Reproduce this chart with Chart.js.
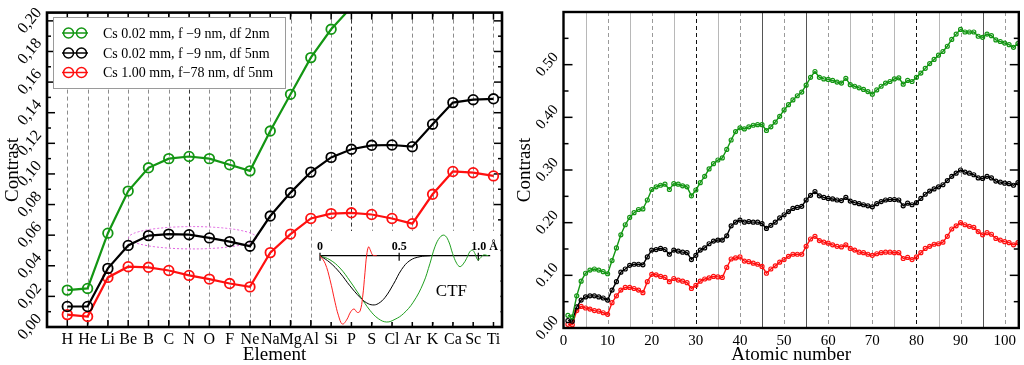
<!DOCTYPE html>
<html>
<head>
<meta charset="utf-8">
<script src="https://cdn.jsdelivr.net/npm/chart.js@4.4.1/dist/chart.umd.min.js"></script>
<style>
  html, body { margin: 0; padding: 0; background: #fff; }
  #wrap { position: relative; width: 1024px; height: 365px; }
  canvas { position: absolute; top: 0; }
</style>
</head>
<body>
<div id="wrap">
  <canvas id="left" width="512" height="365" style="left:0"></canvas>
  <canvas id="right" width="512" height="365" style="left:512px"></canvas>
</div>
<script>
const SERIF = "'Liberation Serif', 'Times New Roman', serif";
const GREEN = '#139613';
const RED = '#ff1010';
const BLACK = '#000000';

// ---- left panel: contrast per element ----
const elements = ['H','He','Li','Be','B','C','N','O','F','Ne','Na','Mg','Al','Si','P','S','Cl','Ar','K','Ca','Sc','Ti'];
const leftYTicks = [0, 0.02, 0.04, 0.06, 0.08, 0.10, 0.12, 0.14, 0.16, 0.18, 0.20];
const legendLabels = ['Cs 0.02 mm, f \u22129 nm, df 2nm', 'Cs 0.02 mm, f \u22129 nm, df 5nm', 'Cs 1.00 mm, f\u221278 nm, df 5nm'];
const leftGreen = [0.0241, 0.0252, 0.0613, 0.0888, 0.104, 0.110, 0.1114, 0.110, 0.106, 0.102, 0.128, 0.152, 0.176, 0.1945, 0.209];
const leftBlack = [0.0134, 0.0134, 0.0383, 0.0533, 0.0597, 0.0607, 0.0603, 0.0582, 0.0558, 0.0528, 0.0725, 0.0878, 0.1012, 0.1108, 0.1161, 0.1187, 0.1189, 0.1178, 0.1325, 0.1466, 0.1485, 0.1491];
const leftRed = [0.0081, 0.0068, 0.0324, 0.0394, 0.039, 0.0369, 0.0337, 0.0313, 0.0284, 0.0262, 0.0486, 0.0607, 0.0709, 0.0741, 0.0746, 0.0735, 0.0709, 0.0675, 0.0867, 0.1016, 0.1008, 0.0987];

// CTF inset (x in Angstrom, y arbitrary)
const ctfTicks = [0, 0.5, 1.0];
const ctfTickLabels = ['0', '0.5', '1.0 \u00c5'];
const ctfRedX = [0, 0.032, 0.063, 0.095, 0.116, 0.141, 0.168, 0.194, 0.215, 0.236, 0.253, 0.269, 0.284, 0.295, 0.307, 0.32, 0.333, 0.358];
const ctfRedY = [0, -0.11, -0.35, -0.68, -0.87, -1.0, -0.94, -0.82, -0.78, -0.83, -0.81, -0.61, -0.25, 0.01, 0.13, 0.07, 0.01, 0];
const ctfBlackX = [0, 0.063, 0.126, 0.189, 0.253, 0.295, 0.333, 0.368, 0.411, 0.463, 0.516, 0.568, 0.632, 0.695];
const ctfBlackY = [0, -0.10, -0.25, -0.44, -0.61, -0.69, -0.72, -0.70, -0.61, -0.42, -0.20, -0.07, -0.014, 0];
const ctfGreenX = [0, 0.063, 0.126, 0.189, 0.253, 0.316, 0.368, 0.421, 0.474, 0.526, 0.589, 0.653, 0.695, 0.726, 0.758, 0.785, 0.811, 0.838, 0.863, 0.884, 0.905, 0.926, 0.947, 0.964, 0.979, 0.996, 1.011, 1.032, 1.063];
const ctfGreenY = [0, -0.06, -0.18, -0.37, -0.59, -0.80, -0.92, -0.97, -0.93, -0.85, -0.68, -0.40, -0.11, 0.13, 0.27, 0.30, 0.22, 0.03, -0.11, -0.16, -0.12, -0.04, 0.06, 0.08, 0.03, -0.06, -0.04, 0.01, 0];

// ---- right panel: contrast vs atomic number 1..103 ----
const rightXTicks = [0, 10, 20, 30, 40, 50, 60, 70, 80, 90, 100];
const rightYTicks = [0, 0.1, 0.2, 0.3, 0.4, 0.5];
const rightGreen = [
  0.024, 0.021, 0.061, 0.089, 0.104, 0.110, 0.112, 0.110, 0.107, 0.103,
  0.128, 0.152, 0.177, 0.196, 0.210, 0.219, 0.225, 0.226, 0.243, 0.263,
  0.268, 0.271, 0.273, 0.263, 0.274, 0.273, 0.270, 0.268, 0.251, 0.262,
  0.276, 0.288, 0.302, 0.312, 0.319, 0.323, 0.339, 0.357, 0.373, 0.380,
  0.378, 0.382, 0.385, 0.386, 0.386, 0.375, 0.382, 0.391, 0.402, 0.414,
  0.424, 0.433, 0.441, 0.448, 0.461, 0.476, 0.487, 0.476, 0.473, 0.472,
  0.470, 0.467, 0.465, 0.474, 0.462, 0.459, 0.456, 0.453, 0.449, 0.444,
  0.452, 0.459, 0.465, 0.468, 0.473, 0.475, 0.463, 0.470, 0.468, 0.476,
  0.484, 0.493, 0.502, 0.510, 0.518, 0.525, 0.535, 0.548, 0.558, 0.567,
  0.562, 0.562, 0.562, 0.554, 0.552, 0.558, 0.555, 0.547, 0.544, 0.541,
  0.538, 0.533, 0.540];
const rightBlack = [
  0.014, 0.013, 0.040, 0.053, 0.059, 0.061, 0.061, 0.059, 0.057, 0.053,
  0.072, 0.088, 0.106, 0.112, 0.119, 0.121, 0.121, 0.120, 0.135, 0.148,
  0.149, 0.151, 0.149, 0.140, 0.148, 0.146, 0.144, 0.143, 0.130, 0.138,
  0.148, 0.152, 0.160, 0.165, 0.167, 0.167, 0.175, 0.194, 0.201, 0.205,
  0.201, 0.202, 0.201, 0.201, 0.198, 0.189, 0.195, 0.201, 0.209, 0.215,
  0.221, 0.227, 0.229, 0.231, 0.243, 0.252, 0.259, 0.251, 0.248, 0.246,
  0.245, 0.243, 0.242, 0.248, 0.241, 0.238, 0.236, 0.234, 0.232, 0.230,
  0.236, 0.240, 0.243, 0.244, 0.244, 0.243, 0.232, 0.237, 0.234, 0.238,
  0.246, 0.254, 0.260, 0.264, 0.268, 0.272, 0.280, 0.288, 0.294, 0.300,
  0.296, 0.294, 0.291, 0.285, 0.284, 0.288, 0.285, 0.279, 0.277, 0.275,
  0.274, 0.271, 0.276];
const rightRed = [
  0.007, 0.006, 0.033, 0.041, 0.038, 0.036, 0.033, 0.032, 0.029, 0.026,
  0.048, 0.061, 0.072, 0.077, 0.077, 0.075, 0.072, 0.067, 0.088, 0.102,
  0.101, 0.098, 0.096, 0.088, 0.094, 0.091, 0.089, 0.086, 0.075, 0.081,
  0.089, 0.093, 0.095, 0.098, 0.097, 0.096, 0.115, 0.131, 0.133, 0.135,
  0.127, 0.126, 0.123, 0.121, 0.117, 0.104, 0.112, 0.118, 0.125, 0.130,
  0.136, 0.140, 0.140, 0.140, 0.155, 0.169, 0.174, 0.166, 0.163, 0.161,
  0.158, 0.155, 0.154, 0.158, 0.151, 0.148, 0.144, 0.143, 0.140, 0.138,
  0.141, 0.143, 0.144, 0.144, 0.143, 0.143, 0.132, 0.134, 0.130, 0.135,
  0.143, 0.151, 0.155, 0.159, 0.160, 0.163, 0.174, 0.188, 0.194, 0.200,
  0.196, 0.193, 0.191, 0.183, 0.177, 0.181, 0.178, 0.170, 0.167, 0.164,
  0.162, 0.158, 0.162];

function xy(xs, ys) { return ys.map((v, i) => ({x: xs[i], y: v})); }
function byIndex(ys) { return ys.map((v, i) => ({x: i + 1, y: v})); }

function seg(ctx, x1, y1, x2, y2) {
  ctx.beginPath(); ctx.moveTo(x1, y1); ctx.lineTo(x2, y2); ctx.stroke();
}

const leftDecor = {
  id: 'leftDecor',
  beforeDatasetsDraw(chart) {
    const {ctx, chartArea: {left, right, top, bottom}, scales: {x, y, x2, y2}} = chart;
    ctx.save();
    // dashed vertical lines at each element
    ctx.lineWidth = 1;
    ctx.setLineDash([4, 3]);
    elements.forEach((el, i) => {
      const px = Math.round(x.getPixelForValue(i + 1)) + 0.5;
      ctx.strokeStyle = (i + 1 === 7 || i + 1 === 15) ? '#333' : '#8c8c8c';
      seg(ctx, px, top, px, bottom);
    });
    // dotted ellipse round the B..Ne black points
    ctx.setLineDash([2, 2]);
    ctx.strokeStyle = '#e060e0';
    const cx = x.getPixelForValue(7.17), cy = y.getPixelForValue(0.0583);
    const rx = x.getPixelForValue(10.32) - cx, ry = cy - y.getPixelForValue(0.0656);
    ctx.beginPath(); ctx.ellipse(cx, cy, rx, ry, 0, 0, 2 * Math.PI); ctx.stroke();
    ctx.setLineDash([]);
    // inward tick marks
    ctx.strokeStyle = '#000';
    ctx.lineWidth = 1.5;
    for (let k = 0; k <= 20; k++) {
      const py = y.getPixelForValue(k / 100);
      const len = k % 2 ? 4 : 8;
      seg(ctx, left, py, left + len, py);
      seg(ctx, right - len, py, right, py);
    }
    elements.forEach((el, i) => {
      const px = x.getPixelForValue(i + 1);
      seg(ctx, px, top, px, top + 7);
      seg(ctx, px, bottom - 7, px, bottom);
    });
    // inset background
    ctx.fillStyle = '#fff';
    ctx.fillRect(315, 231, right - 1.5 - 315, 322 - 231);
    // inset axis
    const y0 = y2.getPixelForValue(0);
    ctx.lineWidth = 1.2;
    seg(ctx, x2.getPixelForValue(0), y0, x2.getPixelForValue(1.075), y0);
    ctx.fillStyle = '#000';
    ctx.font = 'bold 12px ' + SERIF;
    ctx.textBaseline = 'alphabetic';
    ctfTicks.forEach((t, i) => {
      const px = x2.getPixelForValue(t);
      seg(ctx, px, y0 - 3, px, y0 + 5);
      ctx.textAlign = i === 2 ? 'left' : 'center';
      ctx.fillText(ctfTickLabels[i], i === 2 ? px - 7 : px, y0 - 6);
    });
    ctx.font = '17px ' + SERIF;
    ctx.textAlign = 'center';
    ctx.textBaseline = 'middle';
    ctx.fillText('CTF', x2.getPixelForValue(0.83), y2.getPixelForValue(-0.53));
    ctx.restore();
  },
  afterDraw(chart) {
    const {ctx, chartArea: {left, right, top, bottom}} = chart;
    ctx.save();
    ctx.strokeStyle = '#000';
    ctx.lineWidth = 2.6;
    ctx.strokeRect(left, top, right - left, bottom - top);
    // legend
    ctx.fillStyle = '#fff';
    ctx.fillRect(53.5, 17.5, 232, 71);
    ctx.strokeStyle = '#9a9a9a';
    ctx.lineWidth = 1;
    ctx.strokeRect(53.5, 17.5, 232, 71);
    const colors = [GREEN, BLACK, RED];
    const rows = [33, 53, 72.5];
    ctx.font = '14px ' + SERIF;
    ctx.textBaseline = 'middle';
    ctx.textAlign = 'left';
    rows.forEach((ry, i) => {
      ctx.strokeStyle = colors[i];
      ctx.lineWidth = 1.5;
      seg(ctx, 62, ry, 88, ry);
      [68.5, 81.5].forEach(cx => { ctx.beginPath(); ctx.arc(cx, ry, 5, 0, 2 * Math.PI); ctx.stroke(); });
      ctx.fillStyle = '#000';
      ctx.fillText(legendLabels[i], 103, ry + 1);
    });
    ctx.restore();
  }
};

const rightDecor = {
  id: 'rightDecor',
  beforeDatasetsDraw(chart) {
    const {ctx, chartArea: {left, right, top, bottom}, scales: {x, y}} = chart;
    ctx.save();
    ctx.lineWidth = 1;
    for (let v = 5; v <= 100; v += 5) {
      const px = Math.round(x.getPixelForValue(v)) + 0.5;
      if (v % 10 === 0) {
        ctx.setLineDash([4, 3]);
        ctx.strokeStyle = (v === 30 || v === 80) ? '#111' : '#9a9a9a';
      } else {
        ctx.setLineDash([]);
        ctx.strokeStyle = (v === 45 || v === 55 || v === 95) ? '#555' : '#b8b8b8';
      }
      seg(ctx, px, top, px, bottom);
    }
    ctx.setLineDash([]);
    ctx.strokeStyle = '#000';
    ctx.lineWidth = 1.5;
    for (let k = 0; k <= 12; k++) {
      const py = y.getPixelForValue(k * 0.05);
      const len = k % 2 ? 5 : 9;
      seg(ctx, left, py, left + len, py);
      seg(ctx, right - len, py, right, py);
    }
    ctx.restore();
  },
  afterDraw(chart) {
    const {ctx, chartArea: {left, right, top, bottom}} = chart;
    ctx.save();
    ctx.strokeStyle = '#000';
    ctx.lineWidth = 2.4;
    ctx.strokeRect(left, top, right - left, bottom - top);
    ctx.restore();
  }
};

function mainSet(label, data, color, r, bw, lw) {
  return {
    label, data,
    borderColor: color, borderWidth: lw,
    pointRadius: r, pointBorderWidth: bw, pointBorderColor: color,
    pointBackgroundColor: 'rgba(0,0,0,0)', pointStyle: 'circle',
    tension: 0
  };
}
function ctfSet(label, data, color) {
  return {
    label, data, xAxisID: 'x2', yAxisID: 'y2',
    borderColor: color, borderWidth: 1, pointRadius: 0, tension: 0.4
  };
}

const tickFont = {family: SERIF, size: 16};
const titleFont = {family: SERIF, size: 19};

new Chart(document.getElementById('left'), {
  type: 'line',
  data: {
    datasets: [
      mainSet(legendLabels[0], byIndex(leftGreen), GREEN, 4.8, 1.8, 2.2),
      mainSet(legendLabels[1], byIndex(leftBlack), BLACK, 4.8, 1.8, 2.2),
      mainSet(legendLabels[2], byIndex(leftRed), RED, 4.8, 1.8, 2.2),
      ctfSet('CTF Cs 1.00 mm', xy(ctfRedX, ctfRedY), '#ff2020'),
      ctfSet('CTF Cs 0.02 mm, df 5nm', xy(ctfBlackX, ctfBlackY), '#000'),
      ctfSet('CTF Cs 0.02 mm, df 2nm', xy(ctfGreenX, ctfGreenY), '#20a020')
    ]
  },
  options: {
    responsive: false,
    animation: false,
    devicePixelRatio: 1,
    layout: {padding: {top: 5, right: 10, left: 0, bottom: 0}},
    plugins: {legend: {display: false}, tooltip: {enabled: false}},
    scales: {
      x: {
        type: 'linear', min: 0, max: 22.42,
        grid: {display: false, drawTicks: false},
        border: {display: false},
        afterBuildTicks: s => { s.ticks = elements.map((e, i) => ({value: i + 1})); },
        afterFit: s => { s.height = 38; },
        ticks: {autoSkip: false, maxRotation: 0, padding: 3, color: '#000', font: tickFont,
          callback: v => elements[v - 1]},
        title: {display: true, text: 'Element', color: '#000', font: {family: SERIF, size: 19, lineHeight: 1.05}, padding: 0}
      },
      y: {
        type: 'linear', min: 0, max: 0.2054,
        grid: {display: false, drawTicks: false},
        border: {display: false},
        afterBuildTicks: s => { s.ticks = leftYTicks.map(v => ({value: v})); },
        afterFit: s => { s.width = 47; },
        ticks: {autoSkip: false, minRotation: 50, maxRotation: 50, crossAlign: 'center', padding: 3,
          color: '#000', font: tickFont, callback: v => v.toFixed(2).replace('.', ',')},
        title: {display: true, text: 'Contrast', color: '#000', font: {family: SERIF, size: 19, lineHeight: 1.37}, padding: 0}
      },
      x2: {type: 'linear', axis: 'x', position: 'bottom', display: false, min: -1.7246, max: 1.1497},
      y2: {type: 'linear', axis: 'y', position: 'left', display: false, min: -1.0429, max: 3.557}
    }
  },
  plugins: [leftDecor]
});

new Chart(document.getElementById('right'), {
  type: 'line',
  data: {
    datasets: [
      mainSet(legendLabels[0], byIndex(rightGreen), GREEN, 2, 1.2, 1.4),
      mainSet(legendLabels[1], byIndex(rightBlack), BLACK, 2, 1.2, 1.4),
      mainSet(legendLabels[2], byIndex(rightRed), RED, 2, 1.2, 1.4)
    ]
  },
  options: {
    responsive: false,
    animation: false,
    devicePixelRatio: 1,
    layout: {padding: {top: 4, right: 2.5, left: 0, bottom: 0}},
    plugins: {legend: {display: false}, tooltip: {enabled: false}},
    scales: {
      x: {
        type: 'linear', min: 0, max: 103.2,
        grid: {display: false, drawTicks: false},
        border: {display: false},
        afterBuildTicks: s => { s.ticks = rightXTicks.map(v => ({value: v})); },
        afterFit: s => { s.height = 37; },
        ticks: {autoSkip: false, maxRotation: 0, padding: 4, color: '#000', font: {family: SERIF, size: 15}},
        title: {display: true, text: 'Atomic number', color: '#000', font: {family: SERIF, size: 19, lineHeight: 1.05}, padding: 0}
      },
      y: {
        type: 'linear', min: 0, max: 0.6,
        grid: {display: false, drawTicks: false},
        border: {display: false},
        afterBuildTicks: s => { s.ticks = rightYTicks.map(v => ({value: v})); },
        afterFit: s => { s.width = 51.5; },
        ticks: {autoSkip: false, minRotation: 50, maxRotation: 50, crossAlign: 'center', padding: 3,
          color: '#000', font: {family: SERIF, size: 15}, callback: v => v.toFixed(2)},
        title: {display: true, text: 'Contrast', color: '#000', font: {family: SERIF, size: 19, lineHeight: 1.4}, padding: 0}
      }
    }
  },
  plugins: [rightDecor]
});
</script>
</body>
</html>
